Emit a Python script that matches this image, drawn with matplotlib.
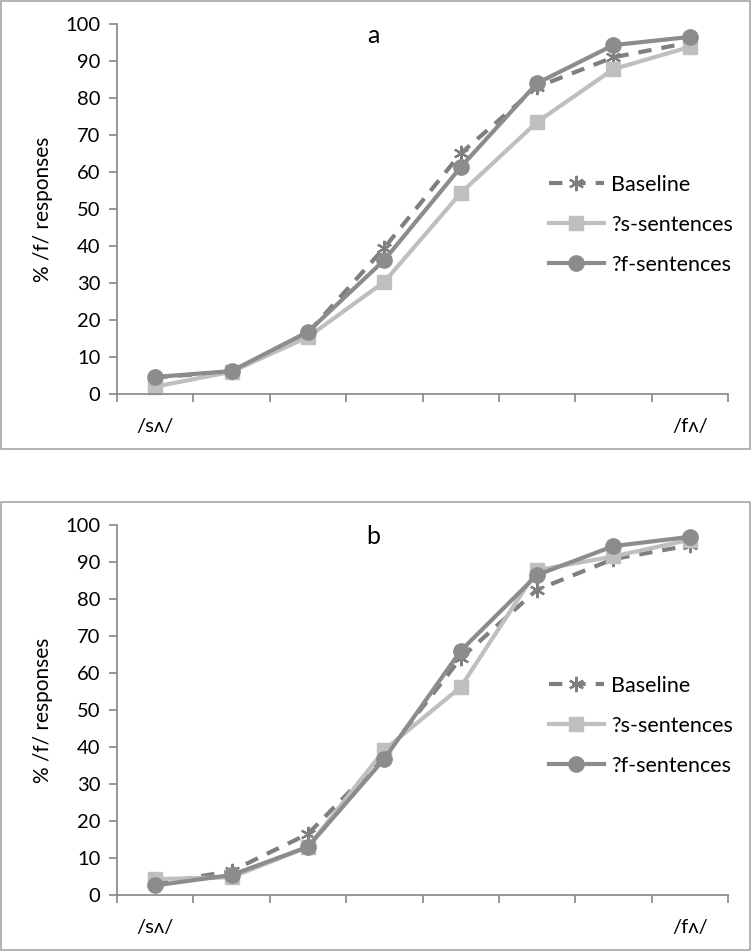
import numpy as np
import matplotlib.pyplot as plt
from matplotlib.patches import Rectangle

plt.rcParams['font.family'] = ['Lato', 'DejaVu Sans']

# continuum steps, only the end points carry a label
steps = ['/sʌ/', '', '', '', '', '', '', '/fʌ/']
series_names = ['Baseline', '?s-sentences', '?f-sentences']
yticks = [0, 10, 20, 30, 40, 50, 60, 70, 80, 90, 100]

# panel a
baseline_a = [4.5, 6.0, 16.5, 39.5, 65.0, 83.0, 91.0, 95.0]
s_sent_a = [2.0, 6.0, 15.4, 30.3, 54.3, 73.5, 87.8, 93.8]
f_sent_a = [4.6, 6.2, 16.8, 36.2, 61.3, 84.0, 94.3, 96.5]
# panel b
baseline_b = [3.0, 6.5, 16.5, 37.5, 64.0, 82.5, 90.8, 94.5]
s_sent_b = [4.3, 4.8, 13.0, 39.2, 56.2, 87.8, 91.5, 96.0]
f_sent_b = [2.6, 5.4, 13.0, 36.8, 66.0, 86.5, 94.3, 96.8]

W, H = 752, 952
fig = plt.figure(figsize=(W/100, H/100), dpi=100)

def px_rect(x0, y0, x1, y1):
    # pixel box (top-left origin) -> figure fraction
    return [x0/W, 1-y1/H, (x1-x0)/W, (y1-y0)/H]

def panel(box, axbox, title, base, ssent, fsent):
    fig.patches.append(Rectangle((box[0], box[1]), box[2], box[3],
                                 transform=fig.transFigure, fill=False,
                                 ec='#a6a6a6', lw=1.2))
    ax = fig.add_axes(axbox)
    x = np.arange(len(steps)) + 0.5
    ax.plot(x, base, color='#7f7f7f', lw=3, ls=(0, (3.2, 2.4)),
            marker=(6, 2, 0), ms=11, mew=1.6, mec='#7f7f7f',
            label=series_names[0], clip_on=False)
    ax.plot(x, ssent, color='#bfbfbf', lw=3, marker='s', ms=10,
            label=series_names[1], clip_on=False)
    ax.plot(x, fsent, color='#8c8c8c', lw=3, marker='o', ms=11,
            label=series_names[2], clip_on=False)
    ax.set_xlim(0, len(steps))
    ax.set_ylim(0, 100)
    ax.set_yticks(yticks)
    ax.set_xticks(np.arange(len(steps)+1))
    ax.set_xticklabels([])
    ax.set_xticks(x, minor=True)
    ax.set_xticklabels(steps, minor=True)
    for s in ['top', 'right']:
        ax.spines[s].set_visible(False)
    for s in ['left', 'bottom']:
        ax.spines[s].set_color('#868686')
        ax.spines[s].set_linewidth(1.2)
    ax.tick_params(axis='y', length=6, width=1.2, color='#868686',
                   labelsize=14.5, pad=6)
    ax.tick_params(axis='x', which='major', length=6, width=1.2,
                   color='#868686')
    ax.tick_params(axis='x', which='minor', length=0, labelsize=14.5, pad=17)
    ax.set_ylabel('% /f/ responses', fontsize=15)
    ax.yaxis.set_label_coords(-0.105, 0.5)
    ax.text(0.42, 0.97, title, transform=ax.transAxes, ha='center',
            va='center', fontsize=18)
    ax.legend(loc='center left', bbox_to_anchor=(0.707, 0.457),
              frameon=False, fontsize=15.5, handlelength=2.55,
              labelspacing=0.93, handletextpad=0.33, borderpad=0,
              borderaxespad=0)
    return ax

panel(px_rect(1, 1, 750, 449), px_rect(117, 24, 728, 394), 'a',
      baseline_a, s_sent_a, f_sent_a)
panel(px_rect(1, 502, 750, 950), px_rect(117, 525, 728, 895), 'b',
      baseline_b, s_sent_b, f_sent_b)

fig.savefig('out.png', dpi=100)
